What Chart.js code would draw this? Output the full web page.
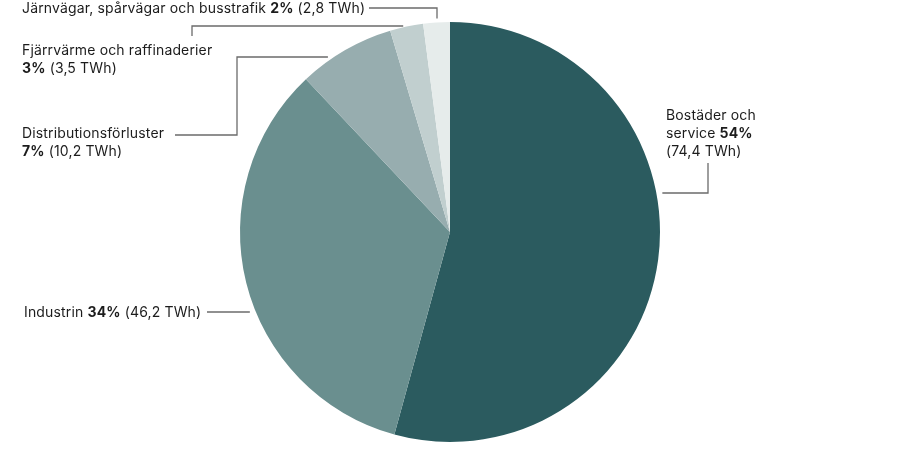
<!DOCTYPE html>
<html>
<head>
<meta charset="utf-8">
<script src="https://cdn.jsdelivr.net/npm/chart.js@4"></script>
<style>
  html, body { margin: 0; background: #fff; }
  #wrap { width: 900px; height: 450px; }
</style>
</head>
<body>
<div id="wrap"><canvas id="pie"></canvas></div>
<script>
// ── Data ──────────────────────────────────────────────────────────────────────
const categories = [
  "Bostäder och service",
  "Industrin",
  "Distributionsförluster",
  "Fjärrvärme och raffinaderier",
  "Järnvägar, spårvägar och busstrafik",
];
const valuesTWh = [74.4, 46.2, 10.2, 3.5, 2.8];

const SLICE_COLOURS = ["#2b5b5f", "#6a8f8f", "#97adaf", "#c1cfcf", "#e6eceb"];
const LINE_COLOUR = "#6b6b6b";
const TEXT_COLOUR = "#1c1c1c";
const FONT = "Inter, 'Noto Sans', sans-serif";

const total = valuesTWh.reduce((a, b) => a + b, 0);
const pct = (v) => Math.round((v / total) * 100) + "%";
const twh = (v) => "(" + v.toFixed(1).replace(".", ",") + " TWh)";

// label line breaks: each line is a list of [text, bold] runs
function labelLines(i) {
  const p = pct(valuesTWh[i]), t = twh(valuesTWh[i]);
  switch (i) {
    case 0: return [[["Bostäder och", false]], [["service ", false], [p, true]], [[t, false]]];
    case 1: return [[["Industrin ", false], [p, true], [" " + t, false]]];
    case 2: return [[["Distributionsförluster", false]], [[p, true], [" " + t, false]]];
    case 3: return [[["Fjärrvärme och raffinaderier", false]], [[p, true], [" " + t, false]]];
    default: return [[["Järnvägar, spårvägar och busstrafik ", false], [p, true], [" " + t, false]]];
  }
}

// ── Label layout (text origin, leader elbows, final direction to the pie) ────
const LABEL_LAYOUT = [
  { x: 666, y: 116, path: [[708, 163], [708, 193]], to: "h" },
  { x: 24,  y: 313, path: [[207, 312]], to: "h" },
  { x: 22,  y: 134, path: [[175, 135], [237, 135], [237, 57]], to: "h" },
  { x: 22,  y: 51,  path: [[192, 36], [192, 26]], to: "h" },
  { x: 22,  y: 9,   path: [[369, 8], [437, 8]], to: "v" },
];
const LINE_HEIGHT = 18;
const GAP = 6;

const leaderLabels = {
  id: "leaderLabels",
  afterDraw(chart) {
    const ctx = chart.ctx;
    const arc = chart.getDatasetMeta(0).data[0];
    const cx = arc.x, cy = arc.y, R = arc.outerRadius;
    ctx.save();

    // leader lines
    ctx.strokeStyle = LINE_COLOUR;
    ctx.lineWidth = 1.3;
    LABEL_LAYOUT.forEach((lay) => {
      const pts = lay.path.slice();
      const last = pts[pts.length - 1];
      let end;
      if (lay.to === "h") {
        const dx = Math.sqrt(Math.max(0, R * R - (last[1] - cy) ** 2));
        end = [last[0] < cx ? cx - dx - GAP : cx + dx + GAP, last[1]];
      } else {
        const dy = Math.sqrt(Math.max(0, R * R - (last[0] - cx) ** 2));
        end = [last[0], last[1] < cy ? cy - dy - GAP + 2 : cy + dy + GAP];
      }
      pts.push(end);
      ctx.beginPath();
      ctx.moveTo(pts[0][0], pts[0][1]);
      for (let k = 1; k < pts.length; k++) ctx.lineTo(pts[k][0], pts[k][1]);
      ctx.stroke();
    });

    // texts
    ctx.fillStyle = TEXT_COLOUR;
    ctx.textBaseline = "middle";
    ctx.textAlign = "left";
    ctx.letterSpacing = "0.15px";
    LABEL_LAYOUT.forEach((lay, i) => {
      labelLines(i).forEach((runs, li) => {
        let x = lay.x;
        const y = lay.y + li * LINE_HEIGHT;
        runs.forEach(([txt, bold]) => {
          ctx.font = (bold ? "700 " : "400 ") + "14px " + FONT;
          ctx.fillText(txt, x, y);
          x += ctx.measureText(txt).width;
        });
      });
    });
    ctx.restore();
  },
};

new Chart(document.getElementById("pie").getContext("2d"), {
  type: "pie",
  data: {
    labels: categories,
    datasets: [{
      data: valuesTWh,
      backgroundColor: SLICE_COLOURS,
      borderWidth: 0,
    }],
  },
  options: {
    responsive: true,
    maintainAspectRatio: false,
    animation: false,
    layout: { padding: { top: 22, bottom: 8, left: 0, right: 0 } },
    plugins: {
      legend: { display: false },
      tooltip: { enabled: false },
    },
  },
  plugins: [leaderLabels],
});
</script>
</body>
</html>
